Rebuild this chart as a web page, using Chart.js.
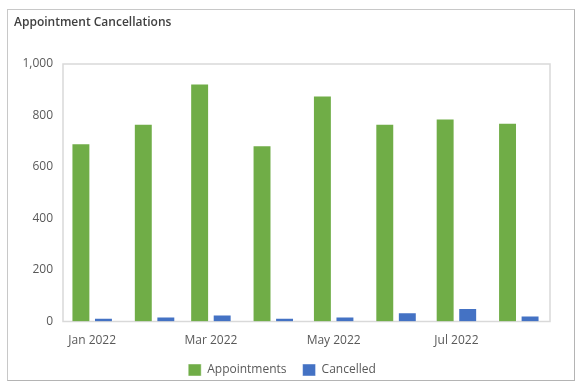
<!DOCTYPE html>
<html>
<head>
<meta charset="utf-8">
<script src="https://cdn.jsdelivr.net/npm/chart.js@4"></script>
<style>
	html, body { margin: 0; padding: 0; background: #fff; overflow: hidden; }
	#card {
		position: absolute; left: 7px; top: 9px; width: 566px; height: 370px;
		border: 1px solid #c8c8c8; border-right-color: #b4b4b4; border-bottom-color: #b4b4b4;
	}
	#wrap { position: absolute; left: 8px; top: 10px; width: 565px; height: 376px; }
</style>
</head>
<body>
<div id="card"></div>
<div id="wrap"><canvas id="chart"></canvas></div>
<script>
// Chart values
const months       = ['2022-01-01', '2022-02-01', '2022-03-01', '2022-04-01', '2022-05-01', '2022-06-01', '2022-07-01', '2022-08-01'];
const appointments = [692, 768, 924, 684, 878, 768, 788, 772];
const cancelled    = [15, 19, 27, 15, 19, 36, 52, 23];
const tickDates    = ['2022-01-01', '2022-03-01', '2022-05-01', '2022-07-01'];
const tickLabels   = ['Jan 2022', 'Mar 2022', 'May 2022', 'Jul 2022'];

// Days since 1 Jan 2022, so the x axis spaces months by their real length
function dayOf(iso) {
	return (Date.parse(iso) - Date.parse('2022-01-01')) / 86400000;
}

const xs = months.map(dayOf);
const tickDays = tickDates.map(dayOf);

function toPoints(values) {
	return values.map((v, i) => ({ x: xs[i], y: v }));
}

// Light frame round the plot area
const plotFrame = {
	id: 'plotFrame',
	beforeDatasetsDraw(chart) {
		const a = chart.chartArea;
		const ctx = chart.ctx;
		ctx.save();
		ctx.strokeStyle = '#d9d9d9';
		ctx.lineWidth = 1.5;
		ctx.strokeRect(a.left, a.top, a.right - a.left, a.bottom - a.top);
		ctx.restore();
	}
};

Chart.defaults.font.family = "'Open Sans', sans-serif";
Chart.defaults.font.size = 12;
Chart.defaults.color = '#595959';

new Chart(document.getElementById('chart'), {
	type: 'bar',
	data: {
		datasets: [
			{
				label: 'Appointments',
				data: toPoints(appointments),
				backgroundColor: '#70ad47',
				borderColor: 'rgba(255,255,255,0.45)',
				borderWidth: 1,
			},
			{
				label: 'Cancelled',
				data: toPoints(cancelled),
				backgroundColor: '#4472c4',
				borderColor: 'rgba(255,255,255,0.45)',
				borderWidth: 1,
			},
		],
	},
	options: {
		responsive: true,
		maintainAspectRatio: false,
		animation: false,
		categoryPercentage: 0.8,
		barPercentage: 0.84,
		layout: { padding: { left: 6, right: 23, top: 0, bottom: 0 } },
		plugins: {
			title: {
				display: true,
				text: 'Appointment Cancellations',
				align: 'start',
				color: '#404040',
				font: { size: 12, weight: '600' },
				padding: { top: 5, bottom: 34.6 },
			},
			legend: {
				position: 'bottom',
				labels: {
					boxWidth: 13,
					boxHeight: 12,
					padding: 16,
					color: '#595959',
				},
			},
			tooltip: { enabled: false },
		},
		scales: {
			x: {
				type: 'linear',
				offset: false,
				min: -14.5,
				max: 227.5,
				grid: { display: false, drawTicks: false },
				border: { display: false },
				afterBuildTicks: scale => {
					scale.ticks = tickDays.map(v => ({ value: v }));
				},
				// padding gets counted twice in the fit, trim it back
				afterFit: scale => { scale.height = 26.5; },
				ticks: {
					padding: 12,
					maxRotation: 0,
					autoSkip: false,
					callback: value => tickLabels[tickDays.indexOf(value)],
				},
			},
			y: {
				min: 0,
				max: 1000,
				grid: { display: false, drawTicks: false },
				border: { display: false },
				afterFit: scale => { scale.width = 49; },
				ticks: {
					stepSize: 200,
					padding: 10,
					callback: value => value.toLocaleString('en-US'),
				},
			},
		},
	},
	plugins: [plotFrame],
});
</script>
</body>
</html>
